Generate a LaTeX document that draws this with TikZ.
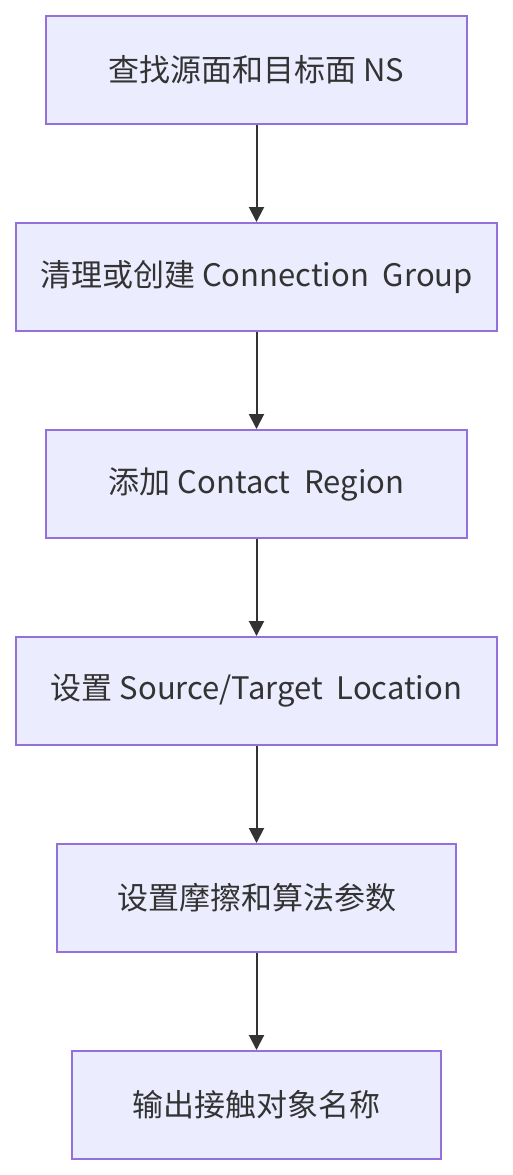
\documentclass[tikz,border=0pt]{standalone}
\usepackage{fontspec}
\setmainfont{Noto Sans CJK SC}
\definecolor{boxfill}{HTML}{ECECFF}
\definecolor{boxline}{HTML}{9370DB}
\definecolor{inkgray}{HTML}{333333}
\usetikzlibrary{shapes,arrows,arrows.meta}
\tikzstyle{block} = [rectangle, draw=boxline, fill=boxfill, text=inkgray,
    line width=2pt, minimum height=108pt, inner sep=0pt, font=\fontsize{31pt}{36pt}\selectfont]
\tikzstyle{line} = [draw, inkgray, line width=2pt, -{Triangle[length=15pt,width=15pt]}]

\begin{document}
\begin{tikzpicture}[node distance = 207pt, auto]
  \useasboundingbox[fill=white] (0,0) rectangle (512pt,-1175pt);
  \node [block, minimum width=421pt] (find_ns) at (256.5pt,-70pt) {查找源面和目标面 NS};
  \node [block, below of=find_ns, minimum width=481pt] (conn_group) {清理或创建 Connection~ Group};
  \path [line] (find_ns) -- (conn_group);
  \node [block, below of=conn_group, minimum width=421pt] (add_region) {添加 Contact~ Region};
  \path [line] (conn_group) -- (add_region);
  \node [block, below of=add_region, minimum width=481pt] (set_location) {设置 Source/Target~ Location};
  \path [line] (add_region) -- (set_location);
  \node [block, below of=set_location, minimum width=399pt] (set_friction) {设置摩擦和算法参数};
  \path [line] (set_location) -- (set_friction);
  \node [block, below of=set_friction, minimum width=369pt] (output_name) {输出接触对象名称};
  \path [line] (set_friction) -- (output_name);
\end{tikzpicture}
\end{document}
